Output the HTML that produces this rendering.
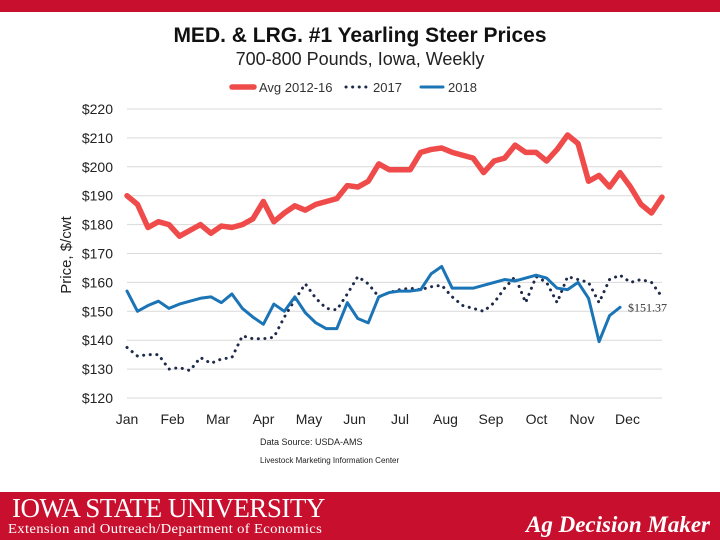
<!DOCTYPE html>
<html><head><meta charset="utf-8"><style>
body{margin:0;width:720px;height:540px;background:#fff;overflow:hidden;position:relative;font-family:"Liberation Sans",sans-serif}
#footer{position:absolute;left:0;top:492px;width:720px;height:48px;background:#c8102e;color:#fff}
#topbar{position:absolute;left:0;top:0;width:720px;height:12px;background:#c8102e}
</style></head><body>
<div id="topbar"></div>
<svg id="chart" width="720" height="492" style="position:absolute;left:0;top:0">
<text x="360" y="42" text-anchor="middle" font-size="21" font-weight="bold" fill="#111">MED. &amp; LRG. #1 Yearling Steer Prices</text>
<text x="360" y="65" text-anchor="middle" font-size="18" fill="#222">700-800 Pounds, Iowa, Weekly</text>
<g id="legend"></g>
<g id="grid"></g><g id="series"></g>
<text transform="translate(71,255) rotate(-90)" text-anchor="middle" font-size="15" fill="#222">Price, $/cwt</text>
<text x="260" y="445" font-size="9" fill="#222">Data Source:  USDA-AMS</text>
<text x="260" y="463" font-size="8" fill="#222">Livestock Marketing Information Center</text>
</svg>
<div id="footer">
<div style="position:absolute;left:12px;top:1px;font-family:'Liberation Serif',serif;font-size:27px;letter-spacing:-0.5px">IOWA STATE UNIVERSITY</div>
<div style="position:absolute;left:8px;top:30px;font-family:'Liberation Serif',serif;font-size:14px;letter-spacing:0.3px;transform:scaleX(1.05);transform-origin:left">Extension and Outreach/Department of Economics</div>
<div style="position:absolute;right:10px;top:20px;font-family:'Liberation Serif',serif;font-size:23px;font-style:italic;font-weight:bold">Ag Decision Maker</div>
</div>
<script>
const months=["Jan","Feb","Mar","Apr","May","Jun","Jul","Aug","Sep","Oct","Nov","Dec"];
const yTicks=[120,130,140,150,160,170,180,190,200,210,220];
const avg1216=[190,187,179,181,180,176,178,180,177,179.5,179,180,182,188,181,184,186.5,185,187,188,189,193.5,193,195,201,199,199,199,205,206,206.5,205,204,203,198,202,203,207.5,205,205,202,206,211,208,195,197,193,198,193,187,184,189.5];
const y2017=[137.5,134.5,135,135,130,130.5,129.5,134,132,133.5,134,141.5,140.5,140.5,141,148,154,159.5,154.5,151,150.5,156,162,159.5,155,156.5,157.5,158,157.5,158.5,159,155,152,151,150,153,158,162,153,162,160,153,162,161,160,153,161,162.5,160,161,160,155];
const y2018=[157,150,152,153.5,151,152.5,153.5,154.5,155,153,156,151,148,145.5,152.5,150,155,149.5,146,144,144,153,147.5,146,155,156.5,157,157,157.5,163,165.5,158,158,158,159,160,161,160.5,161.5,162.5,161.5,158,157.5,160,154.5,139.5,148.5,151.37];
const NS="http://www.w3.org/2000/svg";
const x0=127,x1=662,yTop=109,yBot=398;
const xs=i=>x0+i*(x1-x0)/51;
const ys=v=>yBot-(v-120)/100*(yBot-yTop);
function mk(t,a,p){const e=document.createElementNS(NS,t);for(const k in a)e.setAttribute(k,a[k]);p.appendChild(e);return e;}
const grid=document.getElementById('grid');
yTicks.forEach(v=>{
 const l=mk('line',{x1:x0,x2:x1,y1:ys(v),y2:ys(v),stroke:'#d9d9d9','stroke-width':1},grid);
 
 
 const t=mk('text',{x:113,y:ys(v)+5,'text-anchor':'end','font-size':14,fill:'#222'},grid);
 t.textContent='$'+v;
 
 
});
months.forEach((m,i)=>{
 const t=mk('text',{x:x0+i*45.5,y:424,'text-anchor':'middle','font-size':14,fill:'#222'},grid);
 t.textContent=m;
 
 
});
const ser=document.getElementById('series');
function line(d,col,w,dash,name){
 const p=mk('polyline',{points:d.map((v,i)=>xs(i)+','+ys(v)).join(' '),fill:'none',stroke:col,'stroke-width':w,'stroke-linejoin':'round','stroke-linecap':'round'},ser);
 if(dash)p.setAttribute('stroke-dasharray',dash);
 
 
}
line(avg1216,'#ef4b4b',5.5,null,'series-avg-2012-16');
line(y2017,'#1f2a4a',3,'0.1 6.5','series-2017');
line(y2018,'#1a74b6',3,null,'series-2018');
const last=y2018.length-1;
const lab=mk('text',{x:xs(last)+8,y:ys(y2018[last])+4,'font-size':12,fill:'#333','font-family':'Liberation Serif, serif'},ser);
lab.textContent='$'+y2018[last].toFixed(2);


const lg=document.getElementById('legend');
const items=[["Avg 2012-16","#ef4b4b",5.5,null,232],["2017","#1f2a4a",3,"0.1 6.5",346],["2018","#1a74b6",3,null,421]];
items.forEach(it=>{
 const l=mk('line',{x1:it[4],x2:it[4]+22,y1:87,y2:87,stroke:it[1],'stroke-width':it[2],'stroke-linecap':'round'},lg);
 if(it[3])l.setAttribute('stroke-dasharray',it[3]);
 const t=mk('text',{x:it[4]+27,y:92,'font-size':13,fill:'#333'},lg);
 t.textContent=it[0];
 
 
});
</script>
</body></html>
